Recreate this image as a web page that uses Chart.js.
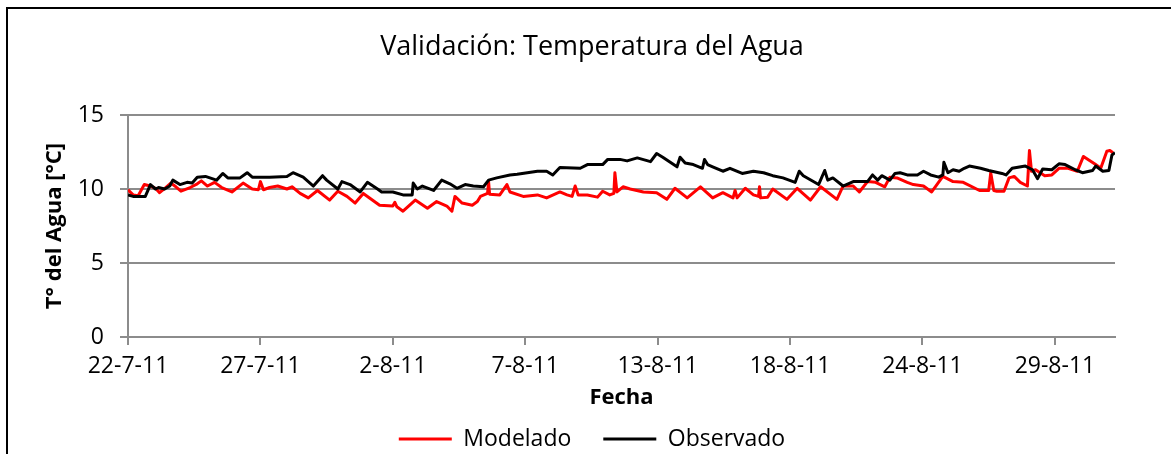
<!DOCTYPE html>
<html>
<head>
<meta charset="utf-8">
<script src="https://cdn.jsdelivr.net/npm/chart.js@4"></script>
<style>
  body { margin: 0; background: #fff; }
  #wrap { position: relative; width: 1171px; height: 454px; overflow: hidden; }
  #marco { position: absolute; left: 6px; top: 7px; width: 1300px; height: 600px; border-left: 2px solid #000; border-top: 2px solid #000; }
  #grafico { position: absolute; left: 0; top: 0; }
</style>
</head>
<body>
<div id="wrap">
  <div id="marco"></div>
  <canvas id="grafico" width="1171" height="454"></canvas>
</div>
<script>
// registro horario desde el 22-7-11, etiqueta de fecha cada 130 horas
const fechasEje = ['22-7-11', '27-7-11', '2-8-11', '7-8-11', '13-8-11', '18-8-11', '24-8-11', '29-8-11']
const horasPorEtiqueta = 130
const horaFinal = 969

const horaModelado = [
  0, 5, 10, 16, 22, 27, 31, 37, 42, 47,
  52, 61, 68, 72, 78, 85, 92, 102, 113, 122,
  128, 130, 133, 139, 147, 156, 161, 169, 177, 186,
  198, 206, 215, 223, 231, 247, 260, 262, 264, 270,
  282, 294, 303, 313, 318, 321, 328, 338, 343, 346,
  353, 354, 355, 365, 372, 375, 388, 402, 411, 424,
  431, 436, 439, 442, 451, 461, 466, 473, 477, 478,
  480, 486, 493, 506, 519, 529, 537, 549, 562, 574,
  584, 594, 596, 598, 606, 614, 619, 620, 621, 628,
  633, 647, 657, 670, 680, 696, 702, 712, 718, 726,
  734, 743, 748, 755, 765, 771, 781, 789, 800, 810,
  820, 836, 845, 847, 850, 853, 860, 865, 870, 876,
  883, 885, 887, 891, 900, 907, 914, 923, 932, 938,
  950, 955, 961, 964, 967
]
const tempModelado = [
  9.95, 9.6, 9.55, 10.3, 10.2, 10.05, 9.75, 10.1, 10.4, 10.15,
  9.85, 10.1, 10.35, 10.55, 10.2, 10.45, 10.1, 9.8, 10.4, 10.0,
  9.95, 10.5, 9.95, 10.1, 10.2, 10.0, 10.15, 9.7, 9.4, 9.9,
  9.25, 9.85, 9.5, 9.05, 9.7, 8.9, 8.85, 9.1, 8.8, 8.5,
  9.25, 8.7, 9.15, 8.85, 8.5, 9.5, 9.05, 8.9, 9.15, 9.5,
  9.7, 10.5, 9.65, 9.6, 10.3, 9.8, 9.5, 9.6, 9.4, 9.8,
  9.6, 9.5, 10.2, 9.6, 9.6, 9.45, 9.85, 9.6, 9.7, 11.1,
  9.8, 10.15, 10.0, 9.8, 9.75, 9.3, 10.05, 9.4, 10.15, 9.4,
  9.75, 9.4, 9.9, 9.4, 10.05, 9.6, 9.5, 10.15, 9.4, 9.45,
  10.0, 9.3, 10.05, 9.25, 10.15, 9.3, 10.2, 10.2, 9.8, 10.5,
  10.45, 10.15, 10.8, 10.75, 10.45, 10.3, 10.2, 9.8, 10.85, 10.5,
  10.45, 9.9, 9.9, 11.1, 9.9, 9.85, 9.85, 10.75, 10.85, 10.45,
  10.2, 12.6, 11.2, 11.3, 10.9, 10.95, 11.4, 11.4, 11.2, 12.2,
  11.65, 11.4, 12.55, 12.6, 12.45
]

const horaObservado = [
  0, 5, 17, 22, 27, 30, 36, 41, 44, 51,
  58, 63, 68, 76, 87, 93, 98, 110, 117, 122,
  139, 156, 162, 172, 182, 191, 195, 206, 210, 218,
  228, 235, 245, 249, 260, 270, 279, 280, 284, 289,
  300, 308, 316, 323, 331, 339, 349, 354, 362, 375,
  382, 392, 402, 411, 417, 424, 444, 451, 466, 471,
  483, 490, 500, 513, 519, 525, 539, 542, 547, 555,
  564, 566, 569, 574, 584, 591, 603, 614, 624, 633,
  643, 655, 659, 663, 678, 684, 687, 692, 702, 712,
  726, 731, 736, 740, 748, 753, 758, 765, 775, 781,
  788, 796, 800, 801, 805, 810, 816, 821, 826, 837,
  845, 858, 862, 868, 881, 888, 893, 898, 907, 914,
  920, 930, 937, 947, 950, 957, 963, 966, 969
]
const tempObservado = [
  9.6, 9.5, 9.5, 10.3, 10.0, 10.1, 10.0, 10.2, 10.6, 10.3,
  10.45, 10.4, 10.8, 10.85, 10.6, 11.05, 10.75, 10.75, 11.1, 10.8,
  10.8, 10.85, 11.1, 10.8, 10.2, 10.9, 10.6, 10.0, 10.5, 10.3,
  9.8, 10.45, 10.0, 9.8, 9.8, 9.6, 9.6, 10.4, 10.0, 10.2,
  9.9, 10.6, 10.35, 10.05, 10.3, 10.2, 10.15, 10.6, 10.75, 10.95,
  11.0, 11.1, 11.2, 11.2, 10.95, 11.45, 11.4, 11.65, 11.65, 12.0,
  12.0, 11.9, 12.1, 11.85, 12.4, 12.15, 11.5, 12.15, 11.75, 11.65,
  11.4, 12.0, 11.65, 11.5, 11.2, 11.4, 11.05, 11.2, 11.1, 10.9,
  10.75, 10.45, 11.2, 10.9, 10.3, 11.25, 10.6, 10.75, 10.2, 10.5,
  10.5, 10.95, 10.6, 10.9, 10.6, 11.05, 11.1, 10.95, 10.95, 11.2,
  10.95, 10.8, 10.95, 11.8, 11.1, 11.3, 11.2, 11.4, 11.55, 11.4,
  11.25, 11.05, 10.95, 11.4, 11.55, 11.3, 10.7, 11.35, 11.3, 11.7,
  11.65, 11.3, 11.1, 11.25, 11.55, 11.2, 11.25, 12.3, 12.45
]

const gris = '#8c8c8c'
Chart.defaults.font.family = "'Open Sans', sans-serif"
Chart.defaults.color = '#000'

const ctx = document.getElementById('grafico')

const data = {
  datasets: [{
    label: 'Modelado',
    data: horaModelado.map((h, i) => ({ x: h, y: tempModelado[i] })),
    borderColor: '#ff0000',
    backgroundColor: '#ff0000',
    borderWidth: 3,
    pointRadius: 0,
    borderJoinStyle: 'round',
    order: 1
  }, {
    label: 'Observado',
    data: horaObservado.map((h, i) => ({ x: h, y: tempObservado[i] })),
    borderColor: '#000000',
    backgroundColor: '#000000',
    borderWidth: 3,
    pointRadius: 0,
    borderJoinStyle: 'round',
    order: 0
  }]
}

const config = {
  type: 'line',
  data: data,
  options: {
    responsive: false,
    animation: false,
    devicePixelRatio: 1,
    layout: { padding: { left: 13, right: 0, top: 0, bottom: 0 } },
    plugins: {
      title: {
        display: true,
        text: 'Validación: Temperatura del Agua',
        font: { size: 27, weight: 'normal' },
        color: '#000',
        padding: { top: 31, bottom: 51.6 }
      },
      legend: {
        position: 'bottom',
        maxHeight: 58.5,
        labels: {
          usePointStyle: true,
          pointStyle: 'line',
          pointStyleWidth: 53,
          padding: 32,
          font: { size: 23 },
          color: '#000',
          sort: (a, b) => a.datasetIndex - b.datasetIndex
        }
      },
      tooltip: { enabled: false }
    },
    scales: {
      x: {
        type: 'linear',
        min: 0,
        max: horaFinal,
        afterBuildTicks: s => { s.ticks = fechasEje.map((f, i) => ({ value: i * horasPorEtiqueta })) },
        afterFit: s => { s.height = 58.5 },
        ticks: {
          autoSkip: false,
          maxRotation: 0,
          padding: 8,
          font: { size: 23 },
          callback: (v, i) => fechasEje[i]
        },
        grid: { display: true, drawOnChartArea: false, drawTicks: true, tickLength: 8, color: gris, lineWidth: 2 },
        border: { display: true, color: gris, width: 2 },
        title: {
          display: true,
          text: 'Fecha',
          font: { size: 22, weight: 'bold' },
          padding: { top: 0, bottom: -15.7 }
        }
      },
      y: {
        min: 0,
        max: 15,
        afterFit: s => { s.width = 115 },
        ticks: { stepSize: 5, padding: 16, font: { size: 23 } },
        grid: { color: gris, lineWidth: 2, tickLength: 8 },
        border: { display: true, color: gris, width: 2 },
        title: {
          display: true,
          text: 'T° del Agua [°C]',
          font: { size: 22, weight: 'bold' },
          padding: { top: 28.8, bottom: 0 }
        }
      },
      yDer: {
        type: 'linear',
        position: 'right',
        afterFit: s => { s.width = 56 },
        ticks: { display: false },
        grid: { display: false },
        border: { display: false }
      }
    }
  }
}

const myChart = new Chart(ctx, config)
</script>
</body>
</html>
